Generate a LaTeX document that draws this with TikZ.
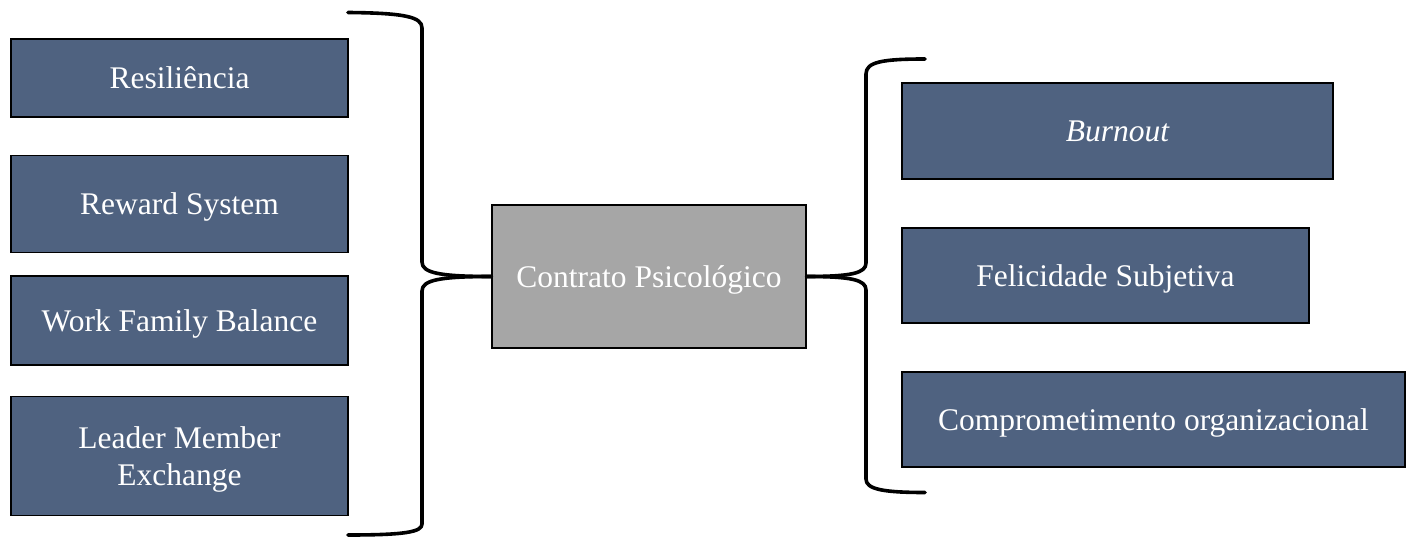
\documentclass[tikz,border=0pt]{standalone}
\usepackage{fontspec}
\setmainfont{Liberation Serif}
\definecolor{slate}{HTML}{4F6280}
\definecolor{midgray}{HTML}{A6A6A6}
\tikzset{
  item/.style={draw=black, fill=slate, text=white, line width=1.2pt, align=center,
    inner sep=0pt, font=\fontsize{31.5}{36.5}\selectfont},
  oneline/.style={text height=28pt, text depth=6.9pt},
  itemR/.style={item, oneline, line width=2pt},
  hub/.style={item, oneline, fill=midgray},
  bracket/.style={draw=black, line width=3.6pt, line cap=round, line join=round}
}
\begin{document}
\begin{tikzpicture}[x=1pt,y=-1pt]
\useasboundingbox (0,0) rectangle (1413,537);

% left column
\node[item, oneline, minimum width=337pt, minimum height=78pt] (res) at (179.5,78) {Resiliência};
\node[item, oneline, minimum width=337pt, minimum height=97pt] (rew) at (179.5,204) {Reward System};
\node[item, oneline, minimum width=337pt, minimum height=89pt] (wfb) at (179.5,320.5) {Work Family Balance};
\node[item, minimum width=337pt, minimum height=119pt] (lmx) at (179.5,456.3) {};
\node[font=\fontsize{31.5}{36.5}\selectfont, text=white, align=center, inner sep=0pt]
  (lmxtext) at (179.5,459.3) {Leader Member\\Exchange};

% centre
\node[hub, minimum width=314pt, minimum height=143pt] (cp) at (649,276.5) {Contrato Psicológico};

% right column
\node[itemR, minimum width=431pt, minimum height=96pt] (bo) at (1117.5,131) {\itshape Burnout};
\node[itemR, minimum width=407pt, minimum height=95pt] (fs) at (1105.5,275.5) {Felicidade Subjetiva};
\node[itemR, minimum width=503pt, minimum height=95pt] (co) at (1153.5,419.5) {Comprometimento organizacional};

% brace ends
\coordinate (lt) at (348,12.5);
\coordinate (lb) at (348,535);
\coordinate (rt) at (925,59);
\coordinate (rb) at (925,492.5);

% left brace
\draw[bracket] (lt) .. controls (405,13) and (422,17) .. (422,28) -- (422,262)
  .. controls (422,273) and (440,276.5) .. (cp.west);
\draw[bracket] (cp.west) .. controls (440,276.5) and (422,280) .. (422,291) -- (422,524)
  .. controls (422,532) and (405,535) .. (lb);

% right brace
\draw[bracket] (cp.east) .. controls (852,276.5) and (866,273) .. (866,263) -- (866,74)
  .. controls (866,62) and (882,59) .. (rt);
\draw[bracket] (cp.east) .. controls (852,276.5) and (866,280) .. (866,290) -- (866,479)
  .. controls (866,489) and (882,492.5) .. (rb);
\end{tikzpicture}
\end{document}
